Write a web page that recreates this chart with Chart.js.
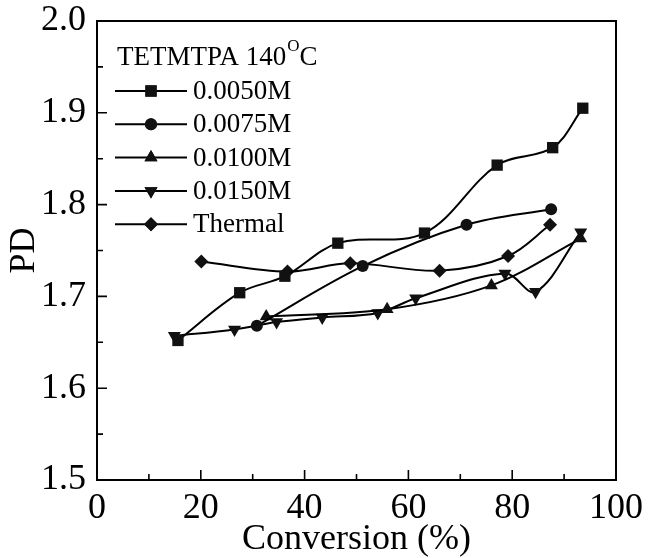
<!DOCTYPE html>
<html>
<head>
<meta charset="utf-8">
<script src="https://cdn.jsdelivr.net/npm/chart.js@4/dist/chart.umd.min.js"></script>
<style>
html,body{margin:0;padding:0;background:#fff;}
#wrap{width:648px;height:558px;position:relative;}
</style>
</head>
<body>
<div id="wrap"><canvas id="c" width="648" height="558"></canvas></div>
<script>
// ---- data ----
const seriesLabels = ['0.0050M', '0.0075M', '0.0100M', '0.0150M', 'Thermal'];
const legendTitle = 'TETMTPA 140';
const conv0050 = [15.6, 27.5, 36.2, 46.4, 63.1, 77.1, 87.8, 93.6];
const pd0050   = [1.652, 1.704, 1.722, 1.758, 1.769, 1.843, 1.862, 1.905];
const conv0075 = [30.8, 51.2, 71.2, 87.5];
const pd0075   = [1.668, 1.733, 1.778, 1.795];
const conv0100 = [32.6, 55.9, 76.0, 93.2];
const pd0100   = [1.678, 1.686, 1.712, 1.763];
const conv0150 = [14.9, 26.5, 34.6, 43.4, 54.1, 61.4, 78.6, 84.5, 93.2];
const pd0150   = [1.657, 1.664, 1.672, 1.677, 1.682, 1.698, 1.725, 1.705, 1.770];
const convThermal = [20.1, 36.7, 48.8, 66.0, 79.2, 87.3];
const pdThermal   = [1.738, 1.727, 1.736, 1.728, 1.744, 1.778];
const xTicks = [0, 20, 40, 60, 80, 100];
const yTicks = [1.5, 1.6, 1.7, 1.8, 1.9, 2.0];

const zip = (xs, ys) => xs.map((x, i) => ({x: x, y: ys[i]}));
const styles = [
  {pointStyle: 'rect', radius: 8, rotation: 0},
  {pointStyle: 'circle', radius: 6, rotation: 0},
  {pointStyle: 'triangle', radius: 7.5, rotation: 0},
  {pointStyle: 'triangle', radius: 7.5, rotation: 180},
  {pointStyle: 'rectRot', radius: 7, rotation: 0}
];
const dataPairs = [
  zip(conv0050, pd0050), zip(conv0075, pd0075), zip(conv0100, pd0100),
  zip(conv0150, pd0150), zip(convThermal, pdThermal)
];
const datasets = dataPairs.map((d, i) => ({
  label: seriesLabels[i],
  data: d,
  borderColor: '#000',
  backgroundColor: '#000',
  borderWidth: 2,
  pointStyle: styles[i].pointStyle,
  pointRadius: styles[i].radius,
  pointRotation: styles[i].rotation,
  pointBorderWidth: 0,
  pointBackgroundColor: '#111',
  tension: 0.35,
  fill: false
}));

const SERIF = '"Liberation Serif", "DejaVu Serif", serif';

const framePlugin = {
  id: 'frame',
  afterDraw(chart) {
    const ctx = chart.ctx;
    const a = chart.chartArea;
    const xs = chart.scales.x, ys = chart.scales.y;
    ctx.save();
    ctx.strokeStyle = '#000';
    ctx.lineWidth = 2;
    ctx.strokeRect(a.left, a.top, a.right - a.left, a.bottom - a.top);
    ctx.lineWidth = 1.6;
    ctx.beginPath();
    for (let v = 0; v <= 100; v += 10) {
      const px = xs.getPixelForValue(v);
      const len = (v % 20 === 0) ? 10 : 6;
      ctx.moveTo(px, a.bottom); ctx.lineTo(px, a.bottom - len);
    }
    for (let k = 0; k <= 10; k++) {
      const v = 1.5 + k * 0.05;
      const py = ys.getPixelForValue(v);
      const len = (k % 2 === 0) ? 10 : 6;
      ctx.moveTo(a.left, py); ctx.lineTo(a.left + len, py);
    }
    ctx.stroke();

    // legend
    ctx.fillStyle = '#000';
    ctx.textBaseline = 'middle';
    ctx.textAlign = 'left';
    ctx.font = '27px ' + SERIF;
    const tx = 117, ty = 58;
    ctx.fillText(legendTitle, tx, ty);
    const w1 = ctx.measureText(legendTitle).width;
    ctx.font = '17px ' + SERIF;
    ctx.fillText('O', tx + w1 + 1, ty - 11);
    const w2 = ctx.measureText('O').width;
    ctx.font = '27px ' + SERIF;
    ctx.fillText('C', tx + w1 + w2 + 1, ty);
    chart.data.datasets.forEach((ds, i) => {
      const yy = 91 + i * 33.3;
      ctx.strokeStyle = '#000';
      ctx.lineWidth = 2;
      ctx.beginPath();
      ctx.moveTo(115, yy); ctx.lineTo(187, yy);
      ctx.stroke();
      ctx.fillStyle = '#111';
      Chart.helpers.drawPoint(ctx, {
        pointStyle: ds.pointStyle, radius: ds.pointRadius,
        rotation: ds.pointRotation, borderWidth: 0
      }, 151, yy);
      ctx.fill();
      ctx.fillStyle = '#000';
      ctx.font = '27px ' + SERIF;
      ctx.fillText(ds.label, 193, yy + 1);
    });
    ctx.restore();
  }
};

new Chart(document.getElementById('c'), {
  type: 'scatter',
  data: {datasets: datasets},
  options: {
    responsive: false,
    animation: false,
    showLine: true,
    layout: {padding: {top: 21, right: 32, left: 0, bottom: 0}},
    plugins: {legend: {display: false}, tooltip: {enabled: false}},
    scales: {
      x: {
        type: 'linear', min: 0, max: 100,
        afterBuildTicks: s => { s.ticks = xTicks.map(v => ({value: v})); },
        afterFit: s => { s.height = 78; s.paddingLeft = 0; s.paddingRight = 0; },
        grid: {display: false, drawTicks: false},
        border: {display: false},
        ticks: {color: '#000', font: {family: SERIF, size: 36}, padding: 7, maxRotation: 0},
        title: {display: true, text: 'Conversion (%)', color: '#000',
                font: {family: SERIF, size: 36, lineHeight: 1}, padding: {top: 0, bottom: 0}}
      },
      y: {
        type: 'linear', min: 1.5, max: 2.0,
        afterBuildTicks: s => { s.ticks = yTicks.map(v => ({value: v})); },
        afterFit: s => { s.width = 97; s.paddingTop = 0; s.paddingBottom = 0; },
        grid: {display: false, drawTicks: false},
        border: {display: false},
        ticks: {color: '#000', font: {family: SERIF, size: 36}, padding: 11,
                callback: v => Number(v).toFixed(1)},
        title: {display: true, text: 'PD', color: '#000',
                font: {family: SERIF, size: 36, lineHeight: 1}, padding: {top: 7, bottom: 0}}
      }
    }
  },
  plugins: [framePlugin]
});
</script>
</body>
</html>
